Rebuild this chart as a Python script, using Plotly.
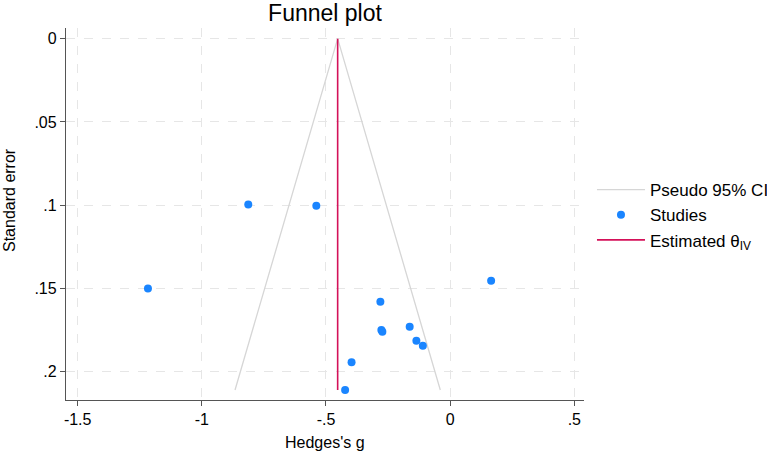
import plotly.graph_objects as go

# Data
hedges_g = [-1.217, -0.813, -0.539, 0.165, -0.281, -0.277, -0.273, -0.163, -0.136, -0.110, -0.397, -0.423]
std_err = [0.150, 0.0995, 0.1003, 0.1453, 0.1579, 0.1749, 0.1760, 0.1730, 0.1813, 0.1843, 0.1943, 0.2109]
theta_iv = -0.453
z_crit = 1.96
x_ticks = [-1.5, -1, -0.5, 0, 0.5]
x_tick_labels = ["-1.5", "-1", "-.5", "0", ".5"]
y_ticks = [0, 0.05, 0.1, 0.15, 0.2]
y_tick_labels = ["0", ".05", ".1", ".15", ".2"]

max_se = max(std_err)
funnel_x = [theta_iv - z_crit * max_se, theta_iv, theta_iv + z_crit * max_se]
funnel_y = [max_se, 0, max_se]

fig = go.Figure()
fig.add_trace(go.Scatter(x=funnel_x, y=funnel_y, mode="lines",
                         line=dict(color="#d6d6d6", width=1.3),
                         name="Pseudo 95% CI"))
fig.add_trace(go.Scatter(x=hedges_g, y=std_err, mode="markers",
                         marker=dict(color="#1a85ff", size=8),
                         name="Studies"))
fig.add_trace(go.Scatter(x=[theta_iv, theta_iv], y=[0, max_se], mode="lines",
                         line=dict(color="#d41159", width=1.6),
                         name="Estimated θ<sub>IV</sub>"))

font_family = "Liberation Sans, Arial, sans-serif"
fig.update_layout(
    width=767, height=455,
    margin=dict(l=66, r=183, t=28, b=55, autoexpand=False),
    paper_bgcolor="white", plot_bgcolor="white",
    font=dict(family=font_family, size=16, color="#000000"),
    title=dict(text="Funnel plot", x=(66 + 584) / 2 / 767, xanchor="center",
               y=1 - 13 / 455, yanchor="middle",
               font=dict(size=23, color="#000000")),
    showlegend=True,
    legend=dict(x=1.0154, xanchor="left", y=0.497, yanchor="middle",
                font=dict(size=17), bgcolor="rgba(0,0,0,0)",
                tracegroupgap=0, itemwidth=48),
    xaxis=dict(range=[-1.547, 0.539], tickvals=x_ticks, ticktext=x_tick_labels,
               showgrid=True, gridcolor="#e6e6e6", griddash="dash", gridwidth=1,
               zeroline=False, showline=True, linecolor="#555555", linewidth=1.3,
               ticks="outside", ticklen=5, tickcolor="#555555",
               tickfont=dict(size=16)),
    yaxis=dict(range=[0.2169, -0.0064], tickvals=y_ticks, ticktext=y_tick_labels,
               showgrid=True, gridcolor="#e6e6e6", griddash="dash", gridwidth=1,
               zeroline=False, showline=True, linecolor="#555555", linewidth=1.3,
               ticks="outside", ticklen=5, tickcolor="#555555",
               tickfont=dict(size=16)),
    annotations=[
        dict(text="Hedges's g", xref="paper", yref="paper", x=0.5, y=(400 - 443) / 372,
             xanchor="center", yanchor="middle", showarrow=False, font=dict(size=16)),
        dict(text="Standard error", xref="paper", yref="paper", x=(9.5 - 66) / 518,
             y=(400 - 200.5) / 372, xanchor="center", yanchor="middle", textangle=-90,
             showarrow=False, font=dict(size=16)),
    ],
)

fig.write_html("out.html")
